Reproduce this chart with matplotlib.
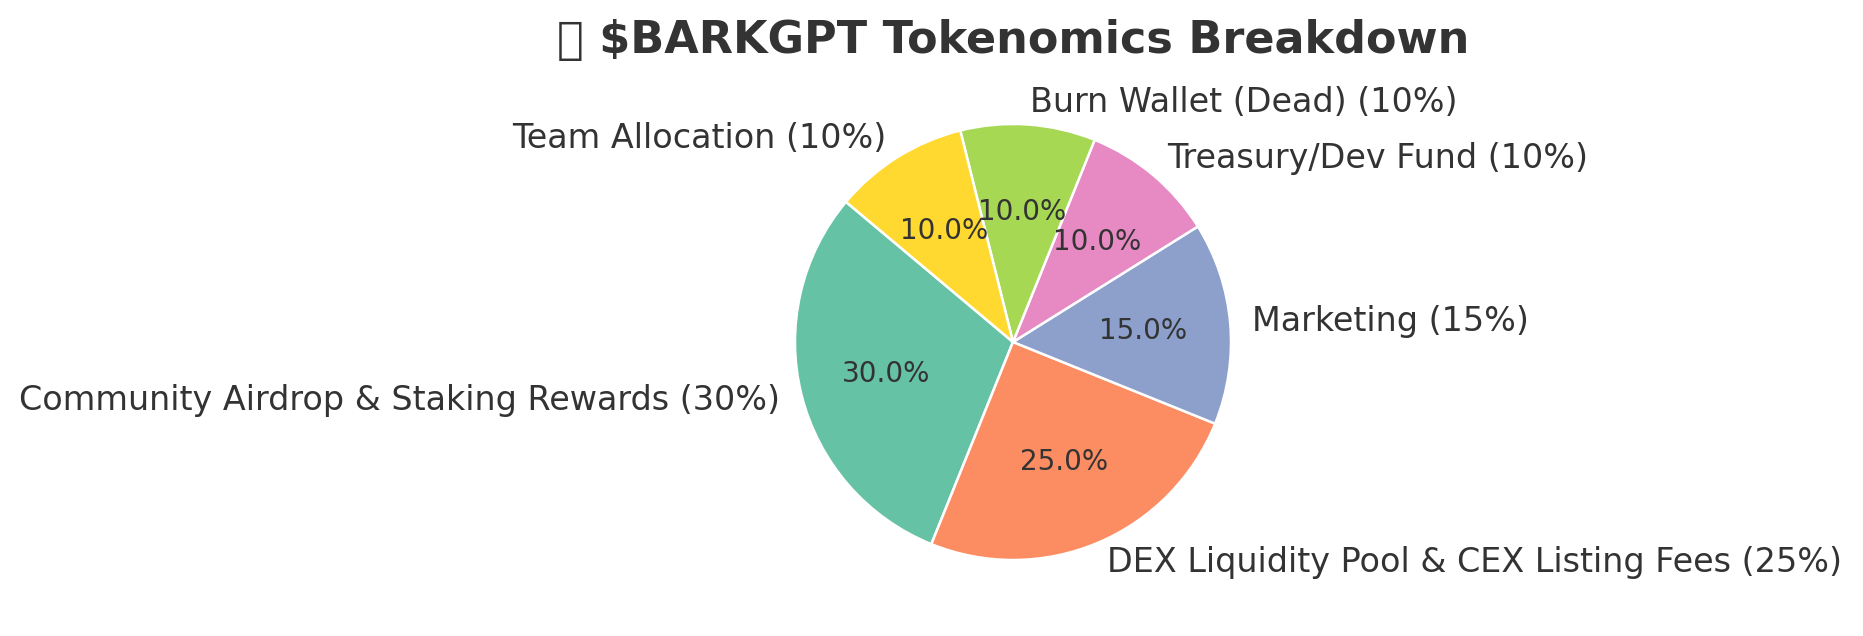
import matplotlib
matplotlib.use("Agg")
import matplotlib.pyplot as plt

labels = [
    "Community Airdrop & Staking Rewards (30%)",
    "DEX Liquidity Pool & CEX Listing Fees (25%)",
    "Marketing (15%)",
    "Treasury/Dev Fund (10%)",
    "Burn Wallet (Dead) (10%)",
    "Team Allocation (10%)",
]
sizes = [30, 25, 15, 10, 10, 10]
colors = ["#66c2a5", "#fc8d62", "#8da0cb", "#e78ac3", "#a6d854", "#ffd92f"]

plt.rcParams["text.color"] = "#333333"
plt.rcParams["font.family"] = ["DejaVu Sans"]

W, H = 1863, 636
fig = plt.figure(figsize=(W / 100, H / 100), dpi=100)
# pie centre (1013, 342) px from top-left, radius 218 px
r = 218
side = 2.5 * r
ax = fig.add_axes([(1013 - side / 2) / W, (H - 342 - side / 2) / H, side / W, side / H])

ax.pie(sizes, labels=labels, colors=colors, autopct="%1.1f%%", startangle=140,
       wedgeprops={"edgecolor": "white", "linewidth": 1.8},
       textprops={"fontsize": 24, "color": "#333333"})
for t in ax.texts:
    if t.get_text().endswith("%") and "(" not in t.get_text():
        t.set_fontsize(20)
ax.set_aspect("equal")
# the emoji has no glyph in any installed font, so it shows as a box like the original
ax.set_title("🐶 $BARKGPT Tokenomics Breakdown", fontsize=32, fontweight="bold", pad=12)

fig.savefig("out.png", dpi=100)
